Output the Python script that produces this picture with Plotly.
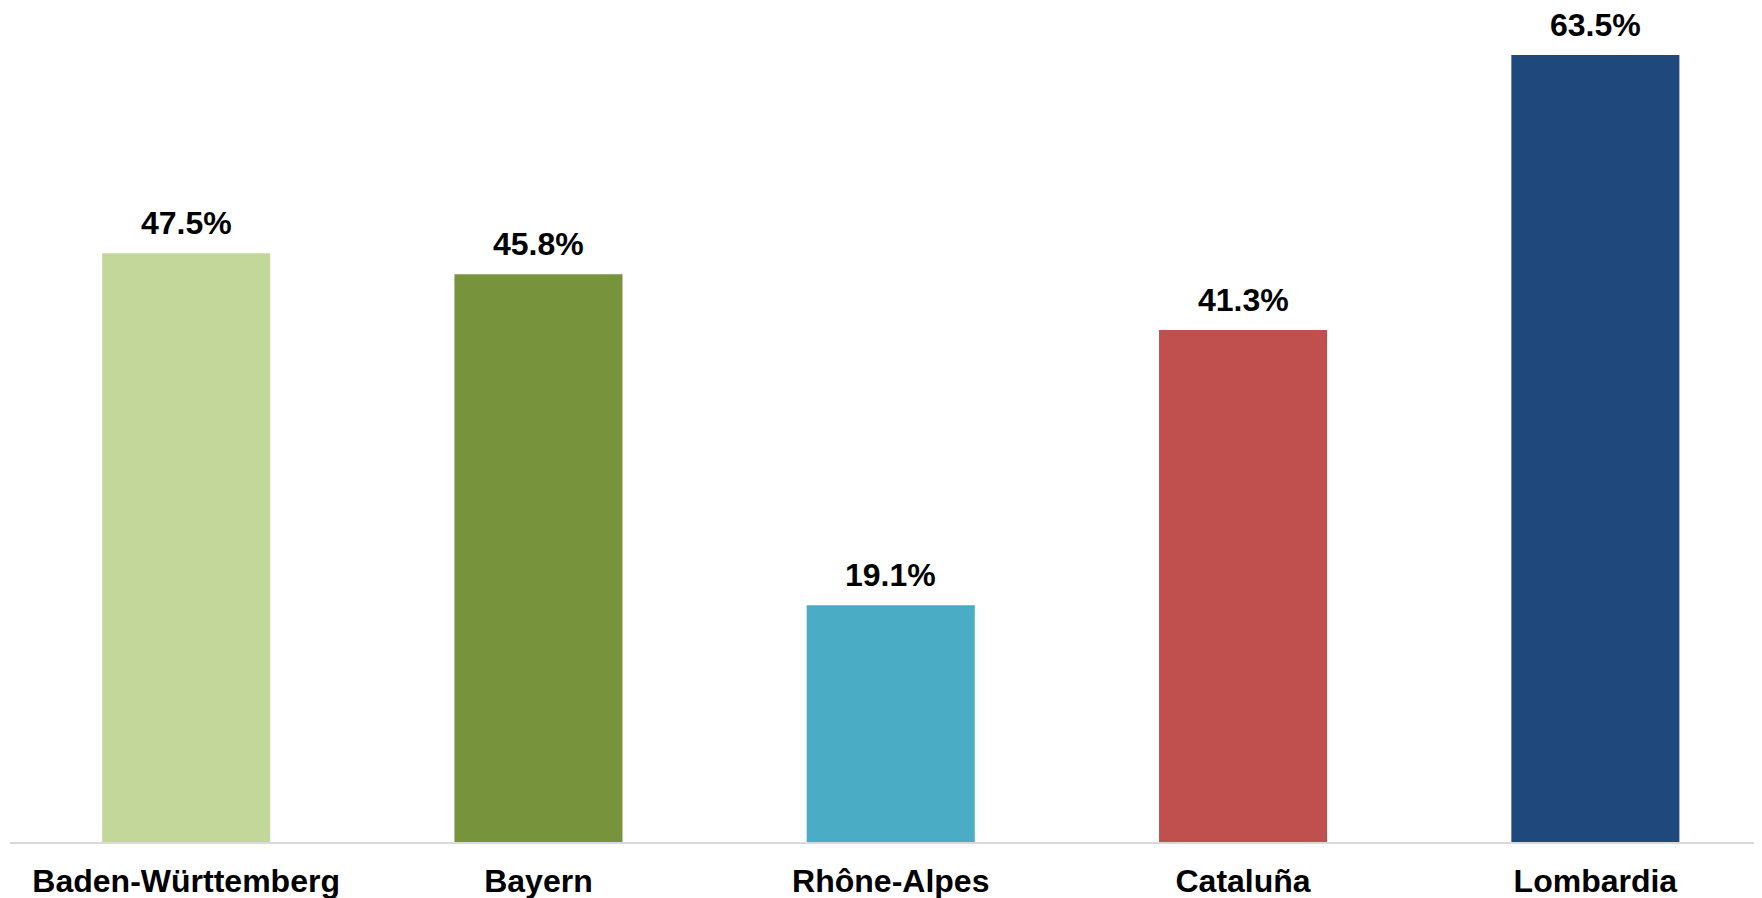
import plotly.graph_objects as go

regions = ["Baden-Württemberg", "Bayern", "Rhône-Alpes", "Cataluña", "Lombardia"]
values = [47.5, 45.8, 19.1, 41.3, 63.5]
colors = ["#C4D79B", "#77933C", "#4BACC6", "#C0504D", "#1F497D"]

FONT = "Liberation Sans, Arial, sans-serif"

fig = go.Figure()
fig.add_trace(go.Bar(
    x=regions, y=values, marker=dict(color=colors, line=dict(width=0)),
    width=0.477, hoverinfo="skip",
))
for r, v in zip(regions, values):
    fig.add_annotation(
        x=r, y=v, text=f"<b>{v:.1f}%</b>", showarrow=False,
        yanchor="bottom", yshift=10,
        font=dict(family=FONT, size=32, color="#000000"),
    )

fig.update_layout(
    width=1754, height=890,
    margin=dict(l=2, r=0, t=0, b=56),
    plot_bgcolor="white", paper_bgcolor="white",
    showlegend=False,
    font=dict(family=FONT),
)
fig.update_xaxes(
    range=[-0.5, 4.473], automargin=False,
    showline=True, linecolor="#D9D9D9", linewidth=2, showgrid=False,
    ticks="", tickfont=dict(size=32, color="#000000", family=FONT, weight="bold"),
    ticklabelstandoff=10,
)
fig.update_yaxes(range=[0, 67.29], visible=False, showgrid=False, automargin=False)

fig.write_html("out.html")
